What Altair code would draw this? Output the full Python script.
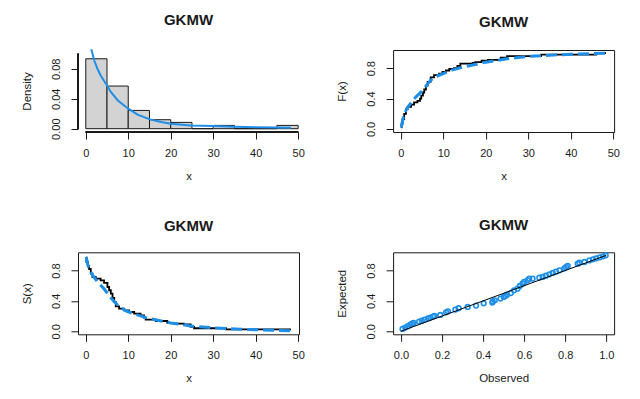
import altair as alt
import pandas as pd

# ---------------- data ----------------
hist_lo = [0, 5, 10, 15, 20, 25, 30, 35, 40, 45]
hist_hi = [5, 10, 15, 20, 25, 30, 35, 40, 45, 50]
hist_density = [0.0933, 0.0569, 0.0244, 0.0120, 0.0084, 0.0, 0.0044, 0.0, 0.0, 0.0044]

dens_x = [1.3, 2.0, 2.75, 3.5, 4.9, 5.9, 7.5, 10.0, 12.2, 15.1, 17.7, 20.0, 24.7, 30.0, 35.0, 40.0, 45.0, 48.3]
dens_y = [0.106, 0.091, 0.080, 0.071, 0.0587, 0.049, 0.038, 0.0267, 0.0187, 0.0124, 0.0089, 0.0067,
          0.0044, 0.0036, 0.0027, 0.0018, 0.0015, 0.0013]

ecdf_x = [0.1, 0.16, 0.39, 0.78, 1.2, 1.6, 2.4, 3.1, 3.9, 4.5, 4.8, 5.2, 5.5, 5.9, 6.3, 7.0, 7.8, 9.0,
          9.8, 10.6, 11.4, 12.5, 13.3, 14.0, 16.9, 17.5, 19.0, 20.5, 23.5, 25.0, 33.0, 46.0, 48.3]
ecdf_y = [0.02, 0.066, 0.13, 0.20, 0.26, 0.29, 0.32, 0.35, 0.37, 0.40, 0.44, 0.48, 0.52, 0.57, 0.62, 0.68,
          0.71, 0.73, 0.75, 0.77, 0.79, 0.80, 0.83, 0.86, 0.87, 0.88, 0.90, 0.91, 0.94, 0.96, 0.98, 1.0, 1.0]

cdf_x = [0.1, 0.4, 0.8, 1.5, 2.5, 3.5, 5.0, 6.0, 7.0, 8.0, 10.0, 12.0, 15.0, 17.5, 20.0, 25.0, 30.0,
         35.0, 40.0, 45.0, 48.3]
cdf_y = [0.02, 0.11, 0.19, 0.28, 0.35, 0.42, 0.50, 0.57, 0.64, 0.685, 0.73, 0.775, 0.82, 0.85, 0.88,
         0.925, 0.955, 0.972, 0.984, 0.992, 0.996]

surv_x = [0.1, 0.16, 0.5, 0.78, 1.18, 1.57, 2.35, 3.5, 4.3, 5.1, 5.5, 5.9, 6.3, 6.7, 7.06, 7.84, 9.0,
          10.2, 11.4, 12.9, 13.7, 14.1, 16.5, 19.2, 20.8, 23.1, 24.7, 25.5, 33.0, 48.3]
surv_y = [0.97, 0.91, 0.86, 0.82, 0.76, 0.715, 0.693, 0.67, 0.636, 0.583, 0.54, 0.496, 0.44, 0.386,
          0.329, 0.298, 0.276, 0.254, 0.232, 0.21, 0.18, 0.154, 0.135, 0.11, 0.10, 0.092, 0.057, 0.04,
          0.025, 0.025]

sfit_x = [0.1, 0.5, 1.0, 1.6, 2.75, 4.3, 5.1, 5.9, 6.7, 8.2, 9.8, 11.4, 14.1, 16.9, 20.0, 24.7, 30.0,
          35.0, 40.0, 45.0, 48.3]
sfit_y = [0.98, 0.87, 0.80, 0.74, 0.65, 0.56, 0.50, 0.44, 0.39, 0.31, 0.26, 0.23, 0.18, 0.145, 0.11,
          0.07, 0.045, 0.03, 0.02, 0.012, 0.008]

pp_obs = [0.008, 0.021, 0.034, 0.046, 0.054, 0.062, 0.089, 0.102, 0.115, 0.132, 0.143, 0.156, 0.164,
          0.192, 0.220, 0.229, 0.265, 0.281, 0.325, 0.366, 0.403, 0.445, 0.447, 0.457, 0.485, 0.501,
          0.509, 0.517, 0.535, 0.551, 0.568, 0.579, 0.592, 0.600, 0.617, 0.625, 0.641, 0.674, 0.690,
          0.706, 0.723, 0.739, 0.755, 0.772, 0.796, 0.804, 0.812, 0.861, 0.869, 0.894, 0.918, 0.935,
          0.951, 0.968, 0.984, 0.997]
pp_exp = [0.031, 0.048, 0.066, 0.088, 0.101, 0.110, 0.127, 0.140, 0.154, 0.171, 0.180, 0.193, 0.202,
          0.215, 0.250, 0.263, 0.285, 0.303, 0.320, 0.338, 0.368, 0.378, 0.395, 0.408, 0.430, 0.452,
          0.465, 0.482, 0.504, 0.539, 0.561, 0.596, 0.627, 0.649, 0.671, 0.693, 0.693, 0.706, 0.715,
          0.732, 0.750, 0.768, 0.785, 0.803, 0.829, 0.846, 0.860, 0.890, 0.904, 0.912, 0.934, 0.947,
          0.961, 0.974, 0.987, 1.0]

diag = [0.0, 1.0]

title_text = "GKMW"
x_ticks = [0, 10, 20, 30, 40, 50]
dens_ticks = [0.0, 0.02, 0.04, 0.06, 0.08, 0.10]
prob_ticks = [0.0, 0.2, 0.4, 0.6, 0.8, 1.0]

# ---------------- styling ----------------
FONT = "Liberation Sans"
BLUE = "#1E8FE8"
INK = "#1a1a1a"
W, H = 221, 82

x_dom = [-1.83, 50.2]
y_dom_dens = [-0.0044, 0.105]
y_dom_prob = [-0.04, 1.04]
x_dom_pp = [-0.038, 1.038]

PROB_EXPR = "(datum.label == '0.0' || datum.label == '0.4' || datum.label == '0.8') ? datum.label : ''"
DENS_EXPR = "(datum.label == '0.00' || datum.label == '0.04' || datum.label == '0.08') ? datum.label : ''"


def xaxis(values, fmt, title):
    return alt.Axis(values=values, format=fmt, title=title, domain=False, grid=False,
                    tickSize=7, tickColor=INK, tickWidth=1,
                    labelFont=FONT, labelFontSize=11, labelColor=INK, labelPadding=17,
                    labelBaseline="alphabetic", labelAngle=0, labelFlush=False, labelOverlap=False,
                    titleFont=FONT, titleFontSize=11.5, titleFontWeight="normal", titleColor=INK,
                    titleX=W / 2, titleY=47.5, titleAlign="center", titleBaseline="alphabetic")


def yaxis(values, fmt, title, expr):
    return alt.Axis(values=values, format=fmt, title=title, domain=False, grid=False,
                    tickSize=7, tickColor=INK, tickWidth=1,
                    labelFont=FONT, labelFontSize=11, labelColor=INK, labelPadding=12,
                    labelAngle=270, labelAlign="center", labelBaseline="alphabetic",
                    labelFlush=False, labelOverlap=False, labelExpr=expr,
                    titleFont=FONT, titleFontSize=11.5, titleFontWeight="normal", titleColor=INK,
                    titleAngle=270, titleX=-48, titleY=H / 2, titleAlign="center",
                    titleBaseline="alphabetic")


def ptitle():
    return alt.TitleParams(title_text, font=FONT, fontSize=15, fontWeight="bold", color=INK,
                           offset=5, baseline="alphabetic", anchor="middle", frame="group")


# ---------------- panel 1: histogram + density ----------------
hist_df = pd.DataFrame({"lo": hist_lo, "hi": hist_hi, "density": hist_density})
dens_df = pd.DataFrame({"x": dens_x, "y": dens_y})

xs = alt.Scale(domain=x_dom, nice=False, zero=False, padding=0)
ys1 = alt.Scale(domain=y_dom_dens, nice=False, zero=False, padding=0)

bars = alt.Chart(hist_df).mark_rect(fill="#D3D3D3", stroke=INK, strokeWidth=1).encode(
    x=alt.X("lo:Q", scale=xs, axis=xaxis(x_ticks, "d", "x")),
    x2="hi:Q",
    y=alt.Y("density:Q", scale=ys1, axis=yaxis(dens_ticks, ".2f", "Density", DENS_EXPR)),
    y2=alt.datum(0),
)
curve = alt.Chart(dens_df).mark_line(color=BLUE, strokeWidth=2).encode(
    x=alt.X("x:Q", scale=xs), y=alt.Y("y:Q", scale=ys1))
x_line = alt.Chart(hist_df).mark_rule(color=INK, strokeWidth=1).encode(
    x=alt.datum(x_ticks[0]), x2=alt.datum(x_ticks[-1]), y=alt.datum(y_dom_dens[0]))
y_line = alt.Chart(hist_df).mark_rule(color=INK, strokeWidth=1).encode(
    y=alt.datum(dens_ticks[0]), y2=alt.datum(dens_ticks[-1]), x=alt.datum(x_dom[0]))

p1 = alt.layer(bars, curve, x_line, y_line).properties(
    width=W, height=H, title=ptitle(), view=alt.ViewBackground(stroke="transparent"))

# ---------------- panel 2: CDF ----------------
ecdf_df = pd.DataFrame({"x": ecdf_x, "y": ecdf_y})
cdf_df = pd.DataFrame({"x": cdf_x, "y": cdf_y})
ysp = alt.Scale(domain=y_dom_prob, nice=False, zero=False, padding=0)

ecdf_line = alt.Chart(ecdf_df).mark_line(color="black", strokeWidth=1.8, interpolate="step-after").encode(
    x=alt.X("x:Q", scale=xs, axis=xaxis(x_ticks, "d", "x")),
    y=alt.Y("y:Q", scale=ysp, axis=yaxis(prob_ticks, ".1f", "F(x)", PROB_EXPR)))
cdf_line = alt.Chart(cdf_df).mark_line(color=BLUE, strokeWidth=3, strokeDash=[11, 5]).encode(
    x=alt.X("x:Q", scale=xs), y=alt.Y("y:Q", scale=ysp))
p2 = alt.layer(ecdf_line, cdf_line).properties(width=W, height=H, title=ptitle())

# ---------------- panel 3: survival ----------------
surv_df = pd.DataFrame({"x": surv_x, "y": surv_y})
sfit_df = pd.DataFrame({"x": sfit_x, "y": sfit_y})
surv_line = alt.Chart(surv_df).mark_line(color="black", strokeWidth=1.8, interpolate="step-after").encode(
    x=alt.X("x:Q", scale=xs, axis=xaxis(x_ticks, "d", "x")),
    y=alt.Y("y:Q", scale=ysp, axis=yaxis(prob_ticks, ".1f", "S(x)", PROB_EXPR)))
sfit_line = alt.Chart(sfit_df).mark_line(color=BLUE, strokeWidth=3, strokeDash=[11, 5]).encode(
    x=alt.X("x:Q", scale=xs), y=alt.Y("y:Q", scale=ysp))
p3 = alt.layer(surv_line, sfit_line).properties(width=W, height=H, title=ptitle())

# ---------------- panel 4: PP plot ----------------
pp_df = pd.DataFrame({"obs": pp_obs, "exp": pp_exp})
diag_df = pd.DataFrame({"a": diag, "b": diag})
xpp = alt.Scale(domain=x_dom_pp, nice=False, zero=False, padding=0)
pts = alt.Chart(pp_df).mark_point(shape="circle", filled=False, color=BLUE, size=22, strokeWidth=1.6, opacity=1).encode(
    x=alt.X("obs:Q", scale=xpp, axis=xaxis(prob_ticks, ".1f", "Observed")),
    y=alt.Y("exp:Q", scale=ysp, axis=yaxis(prob_ticks, ".1f", "Expected", PROB_EXPR)))
dline = alt.Chart(diag_df).mark_line(color="black", strokeWidth=1).encode(
    x=alt.X("a:Q", scale=xpp), y=alt.Y("b:Q", scale=ysp))
p4 = alt.layer(pts, dline).properties(width=W, height=H, title=ptitle())

chart = alt.concat(
    p1, p2, p3, p4, columns=2, bounds="flush",
    spacing=alt.RowColnumber(row=120.3, column=94.1),
).properties(
    padding={"left": 12, "top": 4, "right": 0, "bottom": 0},
    background="white",
).configure_view(stroke=INK, strokeWidth=1)

chart.save("out.html", embed_options={"renderer": "svg", "actions": False})
